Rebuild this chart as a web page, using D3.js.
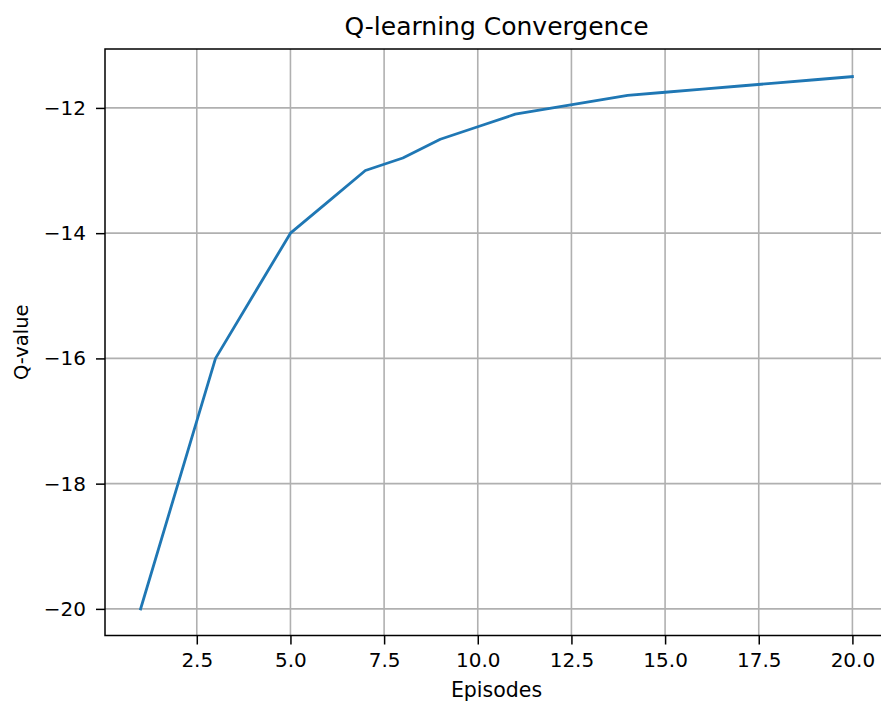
<!DOCTYPE html>
<html><head><meta charset="utf-8">
<script src="https://cdn.jsdelivr.net/npm/d3@7"></script>
<style>body{margin:0;background:#fff}svg{display:block}text{font-family:"DejaVu Sans",sans-serif;fill:#000}</style>
</head><body><svg id="c" width="881" height="702"></svg>
<script>
const episodes = [1,2,3,4,5,6,7,8,9,10,11,12,13,14,15,16,17,18,19,20];
const qValues = [-20,-18,-16,-15,-14,-13.5,-13,-12.8,-12.5,-12.3,-12.1,-12.0,-11.9,-11.8,-11.75,-11.7,-11.65,-11.6,-11.55,-11.5];
const xTicks = [2.5,5,7.5,10,12.5,15,17.5,20];
const yTicks = [-20,-18,-16,-14,-12];
const title = "Q-learning Convergence", xLabel = "Episodes", yLabel = "Q-value";

const svg = d3.select("#c");
const L = 105, R = 888, T = 49, B = 635.5;
const xMin = d3.min(episodes), xMax = d3.max(episodes);
const yMin = d3.min(qValues), yMax = d3.max(qValues);
const xPad = (xMax - xMin) * 0.05, yPad = (yMax - yMin) * 0.05;
const x = d3.scaleLinear().domain([xMin - xPad, xMax + xPad]).range([L, R]);
const y = d3.scaleLinear().domain([yMin - yPad, yMax + yPad]).range([B, T + 1]);

// grid
svg.append("g").selectAll("line").data(xTicks).join("line")
  .attr("x1", d => x(d)).attr("x2", d => x(d)).attr("y1", T).attr("y2", B)
  .attr("stroke", "#b0b0b0").attr("stroke-width", 1.6);
svg.append("g").selectAll("line").data(yTicks).join("line")
  .attr("x1", L).attr("x2", R).attr("y1", d => y(d)).attr("y2", d => y(d))
  .attr("stroke", "#b0b0b0").attr("stroke-width", 1.6);

// line
svg.append("path").datum(episodes.map((e, i) => [e, qValues[i]]))
  .attr("fill", "none").attr("stroke", "#1f77b4").attr("stroke-width", 2.8)
  .attr("stroke-linejoin", "round").attr("stroke-linecap", "square")
  .attr("d", d3.line().x(d => x(d[0])).y(d => y(d[1])));

// axes
const fmtX = d3.format(".1f");
const fmtY = v => d3.format("d")(v).replace("-", "\u2212");
const xa = svg.append("g").attr("transform", `translate(0,${B})`)
  .call(d3.axisBottom(x).tickValues(xTicks).tickFormat(fmtX).tickSize(9).tickPadding(8));
const ya = svg.append("g").attr("transform", `translate(${L},0)`)
  .call(d3.axisLeft(y).tickValues(yTicks).tickFormat(fmtY).tickSize(9).tickPadding(10));
[xa, ya].forEach(a => {
  a.select(".domain").remove();
  a.selectAll("line").attr("stroke", "#000").attr("stroke-width", 1.5);
  a.selectAll("text").style("font-size", "20px").attr("font-family", "DejaVu Sans");
});
// spines
svg.append("rect").attr("x", L).attr("y", T).attr("width", R - L).attr("height", B - T)
  .attr("fill", "none").attr("stroke", "#000").attr("stroke-width", 1.5);

svg.append("text").attr("x", (L + R) / 2).attr("y", 35).attr("text-anchor", "middle")
  .style("font-size", "25px").text(title);
svg.append("text").attr("x", (L + R) / 2).attr("y", 697).attr("text-anchor", "middle")
  .style("font-size", "20.5px").text(xLabel);
svg.append("text").attr("transform", `translate(28,${(T + B) / 2}) rotate(-90)`)
  .attr("text-anchor", "middle").style("font-size", "19.5px").text(yLabel);
</script></body></html>
